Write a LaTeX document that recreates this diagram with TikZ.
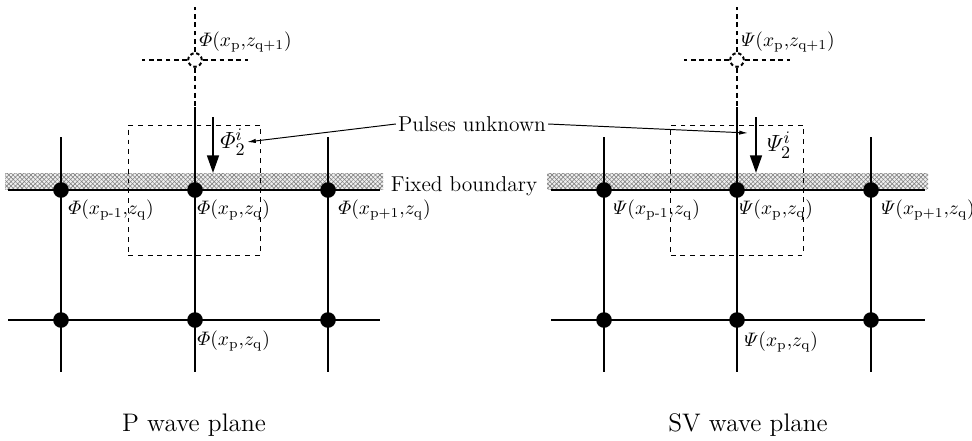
\documentclass[tikz,border=0pt]{standalone}
\usepackage{amsmath}
\usetikzlibrary{positioning}
\usetikzlibrary{calc}
\usetikzlibrary{arrows.meta}
\usetikzlibrary{patterns.meta}
\tikzset{
  % A grid point on or below the boundary
  gridpt/.style={circle, fill=black, inner sep=0pt, minimum size=8pt},
  % The fictitious point above the boundary
  ghostpt/.style={circle, draw=black, fill=white, line width=1pt,
    dash pattern=on 1.8pt off 1.3pt, inner sep=0pt, minimum size=7pt},
  % Grid lines
  gridline/.style={draw=black, line width=1pt},
  ghostline/.style={draw=black, line width=1pt, dash pattern=on 2.5pt off 1.8pt},
  cellbox/.style={draw=black, line width=0.5pt, dash pattern=on 2.5pt off 2.5pt,
    inner sep=0pt, minimum width=2.39cm, minimum height=2.34cm},
  % Arrows
  pulse/.style={-{Triangle[length=9pt, width=6pt]}, line width=1.2pt},
  pointer/.style={-{Latex[length=4.5pt, width=2.2pt]}, line width=0.5pt},
  % Texts
  lbl/.style={font=\fontsize{9.6}{11}\selectfont, inner sep=1pt, anchor=west},
  txt/.style={font=\fontsize{11}{13}\selectfont, inner sep=1pt},
  bigtxt/.style={font=\fontsize{13}{15}\selectfont, inner sep=0.5pt},
  captxt/.style={font=\fontsize{13}{15}\selectfont, inner sep=1pt},
  % The hatched boundary band
  hatcha/.style={pattern={Lines[angle=45, distance=1.6pt, line width=0.3pt]}, pattern color=black!50},
  hatchb/.style={pattern={Lines[angle=-45, distance=1.6pt, line width=0.3pt]}, pattern color=black!50},
}

\begin{document}
\begin{tikzpicture}[x=0.018cm, y=-0.018cm]
\useasboundingbox (0,0) rectangle (972,440);

% P wave plane
\fill[black!6] (5,173) rectangle (383,189);
\fill[hatcha] (5,173) rectangle (383,189);
\fill[hatchb] (5,173) rectangle (383,189);

\node[cellbox] (pcell) at (194.5,190) {};

\node[gridpt] (pa) at (61,190) {};
\node[gridpt] (pb) at (195,190) {};
\node[gridpt] (pc) at (328,190) {};
\node[gridpt] (pd) at (61,320) {};
\node[gridpt] (pe) at (195,320) {};
\node[gridpt] (pf) at (328,320) {};
\node[ghostpt] (pg) at (195,60) {};

\draw[gridline] ($(pa)+(-53,0)$) -- ($(pc)+(52,0)$);
\draw[gridline] ($(pd)+(-53,0)$) -- ($(pf)+(52,0)$);
\draw[gridline] ($(pa)+(0,-53)$) -- ($(pd)+(0,52)$);
\draw[gridline] ($(pc)+(0,-53)$) -- ($(pf)+(0,52)$);
\draw[gridline] ($(pb)+(0,-83)$) -- ($(pe)+(0,52)$);
\draw[ghostline] (pg) -- ($(pb)+(0,-83)$);
\draw[ghostline] (pg) -- ($(pg)+(0,-53)$);
\draw[ghostline] (pg) -- ($(pg)+(-53,0)$);
\draw[ghostline] (pg) -- ($(pg)+(53,0)$);

\node[lbl] (lpg) at ($(pg)+(2,-18)$) {$\varPhi(x_{\mathrm{p}}{,}z_{\mathrm{q+1}})$};
\node[lbl] (lpa) at ($(pa)+(5,20)$) {$\varPhi(x_{\mathrm{p}\text{-}1}{,}z_{\mathrm{q}})$};
\node[lbl] (lpb) at ($(pb)+(0,20)$) {$\varPhi(x_{\mathrm{p}}{,}z_{\mathrm{q}})$};
\node[lbl] (lpc) at ($(pc)+(8,20)$) {$\varPhi(x_{\mathrm{p+1}}{,}z_{\mathrm{q}})$};
\node[lbl] (lpe) at ($(pe)+(0,21)$) {$\varPhi(x_{\mathrm{p}}{,}z_{\mathrm{q}})$};

\coordinate (pin) at (213,117);
\coordinate (pout) at (213,173);
\draw[pulse] (pin) -- (pout);
\node[bigtxt] (pphi) at (233,142) {$\varPhi_2^i$};

\node[captxt] (pcap) at (194,425) {P wave plane};

% SV wave plane
\fill[black!6] (547,173) rectangle (928,189);
\fill[hatcha] (547,173) rectangle (928,189);
\fill[hatchb] (547,173) rectangle (928,189);

\node[cellbox] (scell) at (737,190) {};

\node[gridpt] (sa) at (604,190) {};
\node[gridpt] (sb) at (737,190) {};
\node[gridpt] (sc) at (871,190) {};
\node[gridpt] (sd) at (604,320) {};
\node[gridpt] (se) at (737,320) {};
\node[gridpt] (sf) at (871,320) {};
\node[ghostpt] (sg) at (737,60) {};

\draw[gridline] ($(sa)+(-53,0)$) -- ($(sc)+(54,0)$);
\draw[gridline] ($(sd)+(-53,0)$) -- ($(sf)+(54,0)$);
\draw[gridline] ($(sa)+(0,-53)$) -- ($(sd)+(0,52)$);
\draw[gridline] ($(sc)+(0,-53)$) -- ($(sf)+(0,52)$);
\draw[gridline] ($(sb)+(0,-83)$) -- ($(se)+(0,52)$);
\draw[ghostline] (sg) -- ($(sb)+(0,-83)$);
\draw[ghostline] (sg) -- ($(sg)+(0,-53)$);
\draw[ghostline] (sg) -- ($(sg)+(-53,0)$);
\draw[ghostline] (sg) -- ($(sg)+(53,0)$);

\node[lbl] (lsg) at ($(sg)+(2,-18)$) {$\varPsi(x_{\mathrm{p}}{,}z_{\mathrm{q+1}})$};
\node[lbl] (lsa) at ($(sa)+(7,20)$) {$\varPsi(x_{\mathrm{p}\text{-}1}{,}z_{\mathrm{q}})$};
\node[lbl] (lsb) at ($(sb)+(0,20)$) {$\varPsi(x_{\mathrm{p}}{,}z_{\mathrm{q}})$};
\node[lbl] (lsc) at ($(sc)+(8,20)$) {$\varPsi(x_{\mathrm{p+1}}{,}z_{\mathrm{q}})$};
\node[lbl] (lse) at ($(se)+(5,22)$) {$\varPsi(x_{\mathrm{p}}{,}z_{\mathrm{q}})$};

\coordinate (sin) at (756,117);
\coordinate (sout) at (756,173);
\draw[pulse] (sin) -- (sout);
\node[bigtxt] (spsi) at (779,145) {$\varPsi_2^i$};

\node[captxt] (scap) at (748,425) {SV wave plane};

% Shared labels
\node[txt] (fixed) at (464,186) {Fixed boundary};
\node[txt] (pulses) at (472,124) {Pulses unknown};
\coordinate (stip) at (748,133);
\draw[pointer] (pulses.west) -- (pphi.east);
\draw[pointer] (pulses.east) -- (stip);

\end{tikzpicture}
\end{document}
